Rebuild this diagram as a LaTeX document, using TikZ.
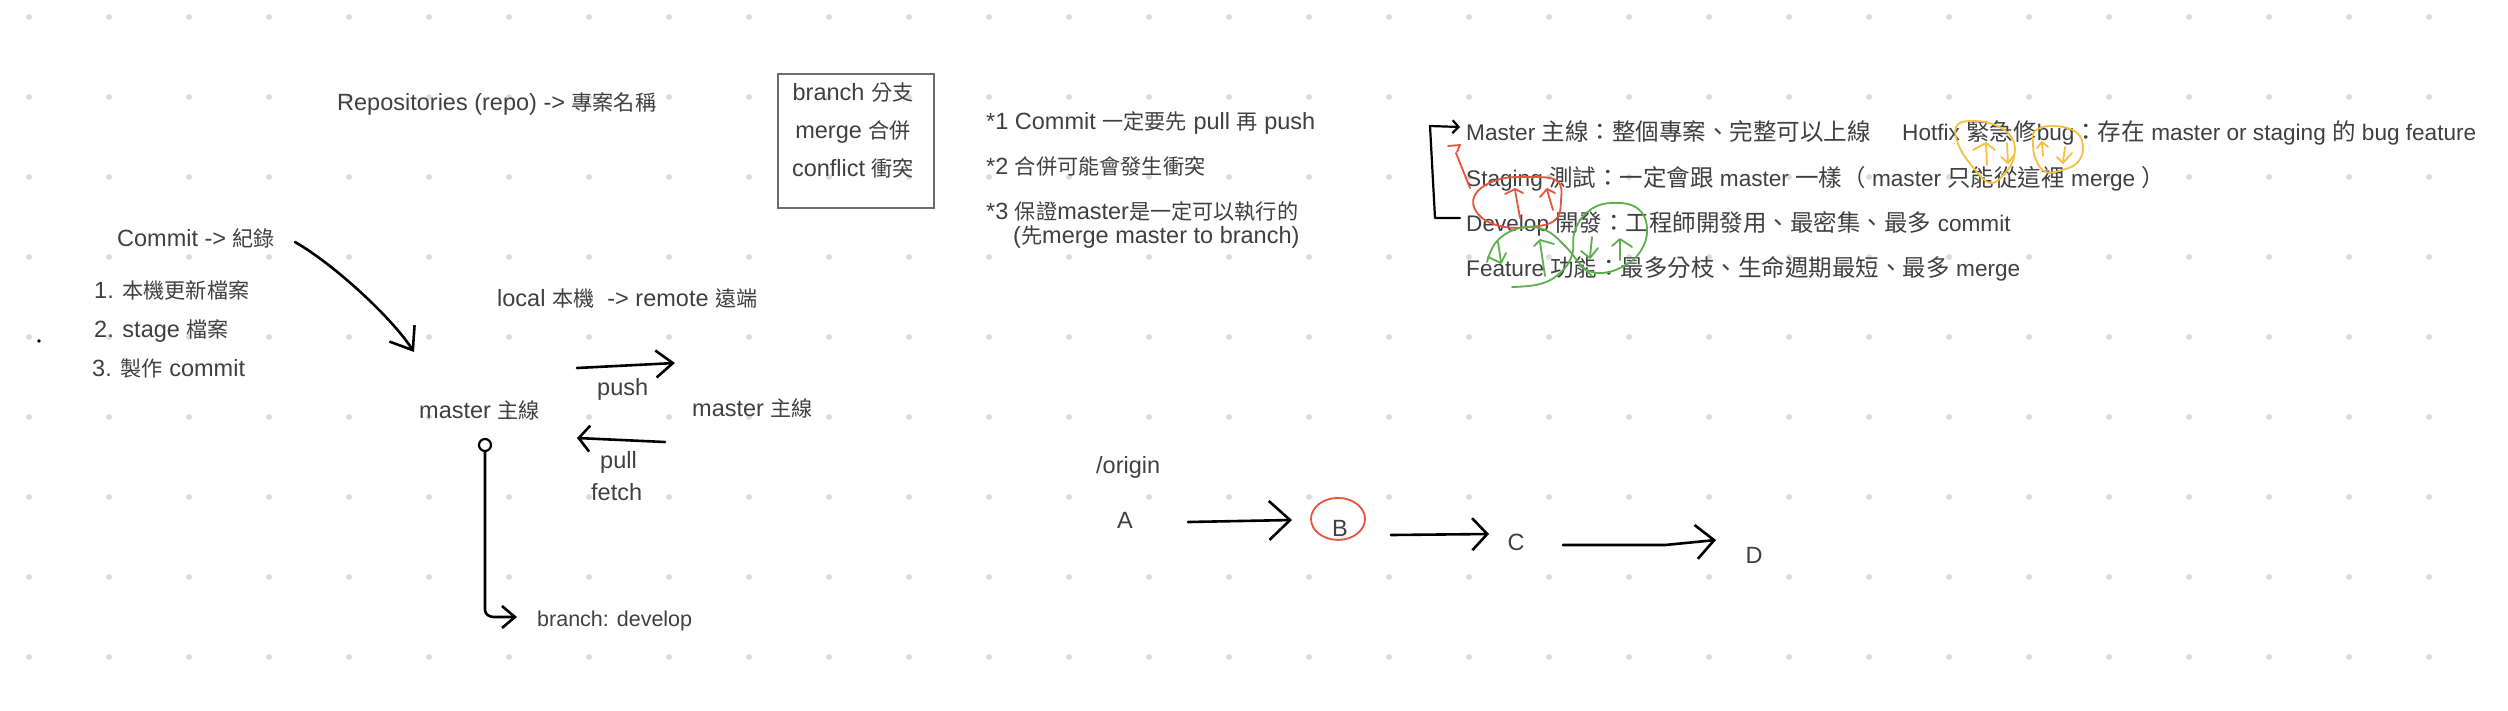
\documentclass[tikz,border=0pt]{standalone}
\usepackage{fontspec}
\setmainfont{Liberation Sans}
\newfontfamily\cjkLfont{Noto Sans CJK TC}[Scale=0.9]
\newfontfamily\cjkRfont{Noto Sans CJK TC}[Scale=1.04]
\newcommand{\zhL}[1]{{\cjkLfont #1}}
\newcommand{\zhR}[1]{{\cjkRfont #1}}
\usetikzlibrary{arrows.meta}
\definecolor{textgray}{HTML}{404040}
\definecolor{dotgray}{HTML}{DCDCDC}
\definecolor{boxgray}{HTML}{6E6E6E}
\definecolor{penred}{HTML}{E8553E}
\definecolor{pengreen}{HTML}{5DAF4E}
\definecolor{penyellow}{HTML}{F4C13E}
\begin{document}
\begin{tikzpicture}[x=1pt,y=-1pt,
  txt/.style={anchor=base west, inner sep=0pt, text=textgray, font=\fontsize{23.5}{28}\selectfont},
  txtR/.style={txt, font=\fontsize{22.6}{27}\selectfont},
  txtC/.style={txt, anchor=base},
  pen/.style={line width=2.6pt, line cap=round, line join=round, draw=black},
  redpen/.style={line width=1.8pt, line cap=round, line join=round, draw=penred},
  greenpen/.style={line width=1.8pt, line cap=round, line join=round, draw=pengreen},
  yellowpen/.style={line width=1.8pt, line cap=round, line join=round, draw=penyellow}]
\useasboundingbox (0,0) rectangle (2508,710);
\fill[white] (0,0) rectangle (2508,710);
% dot grid
\foreach \i in {0,...,30}{
  \foreach \j in {0,...,8}{
    \fill[dotgray] ({29+80*\i},{17+80*\j}) circle (3pt);
  }
}
\fill[black] (39,341) circle (1.8pt);

% left texts
\node[txt] (repo) at (337,110) {Repositories (repo) -> \zhL{專案名稱}};
\node[txt] (commit) at (117,246) {Commit -> \zhL{紀錄}};
\node[txt] (s1) at (94,298) {1. \zhL{本機更新檔案}};
\node[txt] (s2) at (94,337) {2. stage \zhL{檔案}};
\node[txt] (s3) at (92,376) {3. \zhL{製作} commit};
\node[txt] (local) at (497,306) {local \zhL{本機}\ \ -> remote \zhL{遠端}};
\node[txt] (push) at (597,395) {push};
\node[txt] (mL) at (419,418) {master \zhL{主線}};
\node[txt] (mR) at (692,416) {master \zhL{主線}};
\node[txt] (pull) at (600,468) {pull};
\node[txt] (fetch) at (591,500) {fetch};
\node[txt, font=\fontsize{21.5}{26}\selectfont] (bdev) at (537,626) {branch: develop};

% definition box
\node[draw=boxgray, line width=1.5pt, minimum width=156pt, minimum height=134pt, anchor=north west, inner sep=0pt] (defbox) at (777,73) {};
\node[txtC] (b1) at (853,100) {branch \zhL{分支}};
\node[txtC] (b2) at (853,138) {merge \zhL{合併}};
\node[txtC] (b3) at (853,176) {conflict \zhL{衝突}};

% notes
\node[txt] (n1) at (986,129) {*1 Commit \zhL{一定要先} pull \zhL{再} push};
\node[txt] (n2) at (986,174) {*2 \zhL{合併可能會發生衝突}};
\node[txt] (n3) at (986,219) {*3 \zhL{保證}master\zhL{是一定可以執行的}};
\node[txt] (n3b) at (1013,243) {(\zhL{先}merge master to branch)};

% branch list
\node[txtR] (lm) at (1466,140) {Master \zhR{主線：整個專案、完整可以上線}};
\node[txtR] (lh) at (1902,140) {Hotfix \zhR{緊急修}bug\zhR{：存在} master or staging \zhR{的} bug feature};
\node[txtR] (ls) at (1466,186) {Staging \zhR{測試：一定會跟} master \zhR{一樣（} master \zhR{只能從這裡} merge \zhR{）}};
\node[txtR] (ld) at (1466,231) {Develop \zhR{開發：工程師開發用、最密集、最多} commit};
\node[txtR] (lf) at (1466,276) {Feature \zhR{功能：最多分枝、生命週期最短、最多} merge};

% origin chain
\node[txt] (origin) at (1096,473) {/origin};
\node[txtC] (A) at (1125,528) {A};
\node[txtC] (B) at (1340,536) {B};
\node[txtC] (C) at (1516,550) {C};
\node[txtC] (D) at (1754,563) {D};

% connectors
\coordinate (cS) at (295,242); \coordinate (cE) at (414,352);
\draw[pen, -{Straight Barb[length=20pt,width=30pt]}] (cS) .. controls (335,265) and (392,318) .. (cE);
\coordinate (pS) at (577,368); \coordinate (pE) at (675,363);
\draw[pen, -{Straight Barb[length=17pt,width=27pt]}] (pS) -- (pE);
\coordinate (lS) at (665,442); \coordinate (lE) at (577,438);
\draw[pen, -{Straight Barb[length=11pt,width=26pt]}] (lS) -- (lE);
\node[circle, draw=black, line width=2.2pt, minimum size=12pt, inner sep=0pt] (knob) at (485,445) {};
\coordinate (dE) at (517,617);
\draw[pen, -{Straight Barb[length=13pt,width=22pt]}] (knob.south) -- (485,610) to[out=-90,in=180] (494,617) -- (dE);

\coordinate (abS) at (1188,522); \coordinate (abE) at (1292,520);
\draw[pen, -{Straight Barb[length=21pt,width=39pt]}] (abS) -- (abE);
\coordinate (bcS) at (1391,535); \coordinate (bcE) at (1489,534);
\draw[pen, -{Straight Barb[length=15pt,width=32pt]}] (bcS) -- (bcE);
\coordinate (cdS) at (1563,545); \coordinate (cdE) at (1716,540);
\draw[pen, -{Straight Barb[length=18pt,width=34pt]}] (cdS) -- (1665,545) -- (cdE);
\draw[draw=penred, line width=1.8pt] (B.center) ++(-2,-9) ellipse (27pt and 21pt);

% bracket
\coordinate (brS) at (1460,218); \coordinate (brE) at (1460,127);
\draw[pen, line width=2.2pt, -{Straight Barb[length=6pt,width=13pt]}] (brS) -- (1435,218) -- (1430,126) -- (brE);

% red scribbles
\draw[redpen] (1470,188) -- (1456,153);
\draw[redpen] (1448,146) -- (1460,145) -- (1457,152);
\draw[redpen] plot[smooth cycle, tension=0.7] coordinates {(1557,181) (1530,177) (1497,180) (1475,195) (1478,214) (1500,226) (1530,227) (1555,220) (1561,200)};
\draw[redpen] (1520,218) -- (1515,190);
\draw[redpen] (1505,194) -- (1515,189) -- (1523,193);
\draw[redpen] (1553,210) -- (1547,190);
\draw[redpen] (1540,197) -- (1547,189) -- (1555,193);

% green scribbles
\draw[greenpen] plot[smooth, tension=0.7] coordinates {(1487,262) (1497,241) (1520,228) (1545,230) (1565,246) (1580,264) (1592,276)};
\draw[greenpen] plot[smooth, tension=0.7] coordinates {(1512,287) (1540,284) (1560,273) (1572,255) (1575,230) (1590,210) (1612,203) (1637,208) (1647,228) (1640,252) (1620,268) (1597,273) (1580,266)};
\draw[greenpen] (1498,242) -- (1501,262);
\draw[greenpen] (1488,257) -- (1501,263) -- (1506,253);
\draw[greenpen] (1545,276) -- (1540,242);
\draw[greenpen] (1534,246) -- (1540,240) -- (1554,244);
\draw[greenpen] (1592,237) -- (1590,257);
\draw[greenpen] (1581,251) -- (1590,258) -- (1598,248);
\draw[greenpen] (1620,260) -- (1620,240);
\draw[greenpen] (1612,246) -- (1620,239) -- (1632,247);

% yellow scribbles
\draw[yellowpen] plot[smooth cycle, tension=0.7] coordinates {(1956,127) (1970,121) (1995,125) (2012,138) (2014,157) (2005,173) (1990,183) (1972,166) (1959,146)};
\draw[yellowpen] plot[smooth cycle, tension=0.7] coordinates {(2035,131) (2053,126) (2076,132) (2083,148) (2077,163) (2062,170) (2046,172) (2036,160) (2033,144)};
\draw[yellowpen] (1987,165) -- (1986,144);
\draw[yellowpen] (1973,150) -- (1986,143) -- (1995,150);
\draw[yellowpen] (2007,143) -- (2008,163);
\draw[yellowpen] (2001,157) -- (2008,163) -- (2014,155);
\draw[yellowpen] (2043,156) -- (2042,143);
\draw[yellowpen] (2037,148) -- (2042,142) -- (2048,147);
\draw[yellowpen] (2065,147) -- (2063,162);
\draw[yellowpen] (2057,157) -- (2063,163) -- (2072,153);
\end{tikzpicture}
\end{document}
